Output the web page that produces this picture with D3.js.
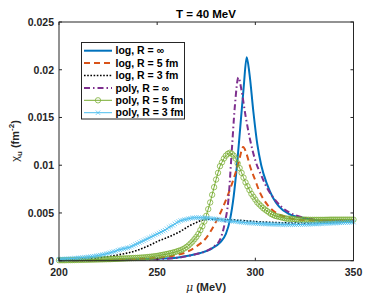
<!DOCTYPE html>
<html><head><meta charset="utf-8">
<script src="https://cdn.jsdelivr.net/npm/d3@7/dist/d3.min.js"></script>
<style>body{margin:0;background:#fff}svg{display:block;font-family:"Liberation Sans",Arial,Helvetica,sans-serif}</style>
</head><body><svg id="c" width="392" height="294"></svg>
<script>
// ---- data ----
const xTicks = [200, 250, 300, 350];
const yTicks = [0, 0.005, 0.01, 0.015, 0.02, 0.025];
const yTickLabels = ["0", "0.005", "0.01", "0.015", "0.02", "0.025"];
const seriesNames = ["log, R = \u221E", "log, R = 5 fm", "log, R = 3 fm", "poly, R = \u221E", "poly, R = 5 fm", "poly, R = 3 fm"];

const muLogInf  = [200, 230, 250, 260, 265, 272, 278, 282, 285, 287, 289, 290.6, 292, 294, 295.6, 297, 299, 301, 303, 306, 309, 312, 317, 325, 335, 350];
const chiLogInf = [0.00002, 0.0001, 0.0002, 0.0003, 0.0005, 0.0008, 0.0013, 0.0019, 0.0028, 0.0042, 0.0068, 0.0099, 0.0132, 0.0180, 0.0213, 0.0196, 0.0156, 0.0122, 0.0100, 0.0080, 0.0066, 0.0057, 0.0049, 0.00445, 0.0042, 0.0042];

const muLog5  = [200, 230, 250, 260, 265, 270, 275, 279.5, 283.7, 288, 291.4, 293.8, 295.5, 297.3, 300, 302, 306, 310, 315, 322, 335, 350];
const chiLog5 = [0.00003, 0.0001, 0.0003, 0.0006, 0.0009, 0.0015, 0.0024, 0.0039, 0.0057, 0.0080, 0.0102, 0.0119, 0.0112, 0.0099, 0.0084, 0.0073, 0.0059, 0.0051, 0.0046, 0.0043, 0.0042, 0.0042];

const muLog3  = [200, 210, 220, 230, 240, 246, 250, 256, 262, 266, 270, 274, 278, 284, 290, 300, 310, 320, 330, 340, 350];
const chiLog3 = [0.0001, 0.00015, 0.0003, 0.0006, 0.0011, 0.0016, 0.0020, 0.0025, 0.0031, 0.0036, 0.0040, 0.0043, 0.00435, 0.0043, 0.00425, 0.0041, 0.0040, 0.00395, 0.00395, 0.0040, 0.00405];

const muPolyInf  = [200, 240, 260, 270, 275, 279, 282, 284.5, 286.3, 288, 289.5, 291.4, 293, 295, 297.3, 300, 303.3, 306, 309.2, 313, 317.7, 325, 335, 350];
const chiPolyInf = [0.00002, 0.0001, 0.0003, 0.0007, 0.0010, 0.0015, 0.0022, 0.0040, 0.0064, 0.0115, 0.0160, 0.0192, 0.0178, 0.0152, 0.0127, 0.0105, 0.0088, 0.0076, 0.0066, 0.0057, 0.0050, 0.0045, 0.0042, 0.0042];

// poly series sampled every 1 MeV from 200 to 350
const muGrid = d3.range(200, 351, 1);
const chiPoly5 = [
  0.00005, 0.00005, 0.00005, 0.00005, 0.00006, 0.00006, 0.00006, 0.00007, 0.00007, 0.00008,
  0.00008, 0.00009, 0.00009, 0.0001, 0.0001, 0.00011, 0.00011, 0.00012, 0.00012, 0.00013,
  0.00013, 0.00014, 0.00014, 0.00015, 0.00015, 0.00016, 0.00016, 0.00017, 0.00018, 0.00019,
  0.0002, 0.00021, 0.00022, 0.00023, 0.00024, 0.00025, 0.00026, 0.00027, 0.00028, 0.00029,
  0.0003, 0.00031, 0.00033, 0.00034, 0.00036, 0.00038, 0.0004, 0.00042, 0.00045, 0.00047,
  0.0005, 0.00054, 0.00058, 0.00062, 0.00066, 0.0007, 0.00075, 0.0008, 0.00085, 0.0009,
  0.00097, 0.00104, 0.0011, 0.0012, 0.0013, 0.00145, 0.0016, 0.0018, 0.002, 0.00225,
  0.0025, 0.0028, 0.0032, 0.0036, 0.0041, 0.0047, 0.0054, 0.0061, 0.0069, 0.0077,
  0.0085, 0.0092, 0.0099, 0.0103, 0.0107, 0.011, 0.0112, 0.0113, 0.0112, 0.011,
  0.0107, 0.0102, 0.0097, 0.0092, 0.0087, 0.0082, 0.0078, 0.0074, 0.007, 0.0067,
  0.0064, 0.0061, 0.0059, 0.0057, 0.0055, 0.00535, 0.0052, 0.00505, 0.0049, 0.0048,
  0.0047, 0.00465, 0.0046, 0.00455, 0.0045, 0.00445, 0.0044, 0.0044, 0.0044, 0.00437,
  0.00435, 0.00432, 0.0043, 0.0043, 0.0043, 0.0043, 0.00429, 0.00429, 0.00428, 0.00428,
  0.00428, 0.00428, 0.00428, 0.00428, 0.00428, 0.00428, 0.00429, 0.00429, 0.0043, 0.0043,
  0.0043, 0.0043, 0.0043, 0.0043, 0.0043, 0.0043, 0.0043, 0.0043, 0.0043, 0.0043,
  0.0043];
const chiPoly3 = [
  0.00015, 0.00016, 0.00017, 0.00018, 0.0002, 0.00021, 0.00022, 0.00023, 0.00025, 0.00027,
  0.0003, 0.00031, 0.00033, 0.00035, 0.00037, 0.0004, 0.00042, 0.00045, 0.00048, 0.00051,
  0.00055, 0.00059, 0.00063, 0.00067, 0.00072, 0.00077, 0.00083, 0.00089, 0.00095, 0.001,
  0.0011, 0.00115, 0.0012, 0.00125, 0.0013, 0.00135, 0.0014, 0.0015, 0.0016, 0.0017,
  0.0018, 0.0019, 0.002, 0.0021, 0.0022, 0.0023, 0.0024, 0.0025, 0.0026, 0.0027,
  0.0028, 0.0029, 0.003, 0.0031, 0.0032, 0.00335, 0.0035, 0.0036, 0.0037, 0.00385,
  0.004, 0.0041, 0.0042, 0.00425, 0.0043, 0.00435, 0.0044, 0.00444, 0.00448, 0.0045,
  0.0045, 0.0045, 0.0045, 0.00449, 0.00448, 0.00446, 0.00445, 0.00443, 0.0044, 0.00438,
  0.00435, 0.00432, 0.0043, 0.00427, 0.00425, 0.00422, 0.0042, 0.00418, 0.00415, 0.00412,
  0.0041, 0.00408, 0.00405, 0.00402, 0.004, 0.00398, 0.00397, 0.00395, 0.00394, 0.00392,
  0.0039, 0.00389, 0.00388, 0.00387, 0.00386, 0.00385, 0.00384, 0.00383, 0.00382, 0.00381,
  0.0038, 0.0038, 0.00379, 0.00379, 0.00378, 0.00378, 0.00378, 0.00378, 0.00378, 0.00378,
  0.00378, 0.00378, 0.00379, 0.00379, 0.0038, 0.0038, 0.00381, 0.00381, 0.00382, 0.00383,
  0.00384, 0.00385, 0.00386, 0.00387, 0.00388, 0.00389, 0.0039, 0.00391, 0.00392, 0.00393,
  0.00394, 0.00395, 0.00396, 0.00397, 0.00398, 0.00399, 0.004, 0.00401, 0.00402, 0.00403,
  0.00404];

// ---- chart ----
const svg = d3.select("#c");
const x = d3.scaleLinear().domain([200, 350]).range([59, 353.5]);
const y = d3.scaleLinear().domain([0, 0.025]).range([260.7, 22]);
const axisCol = "#262626";

svg.append("defs").append("clipPath").attr("id", "pa").append("rect")
  .attr("x", x(200) - 4).attr("y", y(0.025)).attr("width", x(350) - x(200) + 8).attr("height", y(0) - y(0.025) + 4);

const zip = (a, b) => a.map((v, i) => [v, b[i]]);
const series = [
  {name: seriesNames[0], data: zip(muLogInf, chiLogInf), color: "#0072BD", w: 2, dash: null},
  {name: seriesNames[1], data: zip(muLog5, chiLog5), color: "#D95319", w: 2, dash: "6,4"},
  {name: seriesNames[2], data: zip(muLog3, chiLog3), color: "#000000", w: 1.6, dash: "1.6,1.6"},
  {name: seriesNames[3], data: zip(muPolyInf, chiPolyInf), color: "#7E2F8E", w: 2, dash: "6,3,1.5,3"},
  {name: seriesNames[4], data: zip(muGrid, chiPoly5), color: "#77AC30", w: 1, dash: null, marker: "o"},
  {name: seriesNames[5], data: zip(muGrid, chiPoly3), color: "#4DBEEE", w: 1, dash: null, marker: "x"}
];

const line = d3.line().x(d => x(d[0])).y(d => y(d[1])).curve(d3.curveMonotoneX);
const g = svg.append("g").attr("clip-path", "url(#pa)");

function drawMarker(sel, type, color) {
  if (type === "o") {
    sel.append("circle").attr("r", 2.7).attr("fill", "none").attr("stroke", color).attr("stroke-width", 0.75);
  } else if (type === "x") {
    sel.append("path").attr("d", "M-2.2,-2.2L2.2,2.2M-2.2,2.2L2.2,-2.2").attr("stroke", color).attr("stroke-width", 0.75);
  }
}

series.forEach(s => {
  g.append("path").attr("d", line(s.data)).attr("fill", "none").attr("stroke", s.color)
    .attr("stroke-width", s.w).attr("stroke-dasharray", s.dash);
  if (s.marker) {
    s.data.forEach(d => {
      const m = g.append("g").attr("transform", `translate(${x(d[0])},${y(d[1])})`);
      drawMarker(m, s.marker, s.color);
    });
  }
});

// axes (box with inward ticks)
const axG = svg.append("g").attr("font-weight", "bold").attr("font-size", 10.5).attr("fill", axisCol);
axG.append("rect").attr("x", x(200)).attr("y", y(0.025)).attr("width", x(350) - x(200)).attr("height", y(0) - y(0.025))
  .attr("fill", "none").attr("stroke", axisCol).attr("stroke-width", 1);
const tl = 3;
xTicks.forEach(t => {
  axG.append("line").attr("x1", x(t)).attr("x2", x(t)).attr("y1", y(0)).attr("y2", y(0) - tl).attr("stroke", axisCol);
  axG.append("line").attr("x1", x(t)).attr("x2", x(t)).attr("y1", y(0.025)).attr("y2", y(0.025) + tl).attr("stroke", axisCol);
  axG.append("text").attr("x", x(t)).attr("y", y(0) + 15).attr("text-anchor", "middle").text(t);
});
yTicks.forEach((t, i) => {
  axG.append("line").attr("x1", x(200)).attr("x2", x(200) + tl).attr("y1", y(t)).attr("y2", y(t)).attr("stroke", axisCol);
  axG.append("line").attr("x1", x(350)).attr("x2", x(350) - tl).attr("y1", y(t)).attr("y2", y(t)).attr("stroke", axisCol);
  axG.append("text").attr("x", x(200) - 5).attr("y", y(t) + 3.8).attr("text-anchor", "end").text(yTickLabels[i]);
});

// title & labels
svg.append("text").attr("x", 206).attr("y", 18).attr("text-anchor", "middle").attr("font-weight", "bold")
  .attr("font-size", 11.5).attr("fill", "#000").text("T = 40 MeV");
const xl = svg.append("text").attr("x", 206).attr("y", 291).attr("text-anchor", "middle").attr("font-weight", "bold")
  .attr("font-size", 11).attr("fill", axisCol);
xl.append("tspan").attr("font-style", "italic").attr("font-weight", "normal").attr("font-family", "DejaVu Serif, serif").text("\u03BC");
xl.append("tspan").text(" (MeV)");
const yl = svg.append("text").attr("transform", "translate(19,141) rotate(-90)").attr("text-anchor", "middle")
  .attr("font-weight", "bold").attr("font-size", 11).attr("fill", axisCol);
yl.append("tspan").attr("font-weight", "normal").text("\u03C7");
yl.append("tspan").attr("font-size", 8).attr("dy", 3).text("u");
yl.append("tspan").attr("dy", -3).text(" (fm");
yl.append("tspan").attr("font-size", 8).attr("dy", -5).text("-2");
yl.append("tspan").attr("dy", 5).text(")");

// legend
const lg = svg.append("g");
lg.append("rect").attr("x", 81.5).attr("y", 42.5).attr("width", 103).attr("height", 76.5)
  .attr("fill", "#fff").attr("stroke", axisCol).attr("stroke-width", 1);
series.forEach((s, i) => {
  const yy = 50.7 + i * 12.4;
  lg.append("line").attr("x1", 84).attr("x2", 112).attr("y1", yy).attr("y2", yy).attr("stroke", s.color)
    .attr("stroke-width", s.w).attr("stroke-dasharray", s.dash);
  if (s.marker) {
    const m = lg.append("g").attr("transform", `translate(98,${yy})`);
    drawMarker(m, s.marker, s.color);
  }
  lg.append("text").attr("x", 115.5).attr("y", yy + 3.7).attr("font-weight", "bold").attr("font-size", 10.5)
    .attr("fill", "#000").text(s.name);
});
</script></body></html>
